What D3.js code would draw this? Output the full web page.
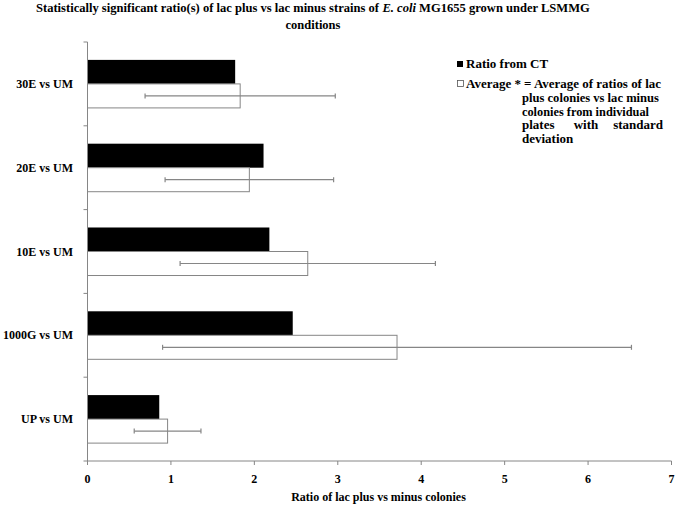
<!DOCTYPE html>
<html>
<head>
<meta charset="utf-8">
<script src="https://cdn.jsdelivr.net/npm/d3@7"></script>
<style>
  body { margin: 0; background: #fff; }
  text { font-family: "Liberation Serif", "Times New Roman", serif; font-weight: bold; fill: #000; }
</style>
</head>
<body>
<svg id="chart" width="675" height="508"></svg>
<script>
// values
let categories = ["30E vs UM", "20E vs UM", "10E vs UM", "1000G vs UM", "UP vs UM"];
let ratioCT = [1.77, 2.11, 2.18, 2.46, 0.86];
let average = [1.83, 1.94, 2.64, 3.71, 0.96];
let stdDev = [1.14, 1.01, 1.53, 2.81, 0.40];
let xTicks = [0, 1, 2, 3, 4, 5, 6, 7];

let titleParts = [
  {t: "Statistically significant ratio(s) of lac plus vs lac minus strains of ", italic: false},
  {t: "E. coli", italic: true},
  {t: " MG1655 grown under LSMMG", italic: false}
];

let grey = "#868686";

const svg = d3.select("#chart");

let x = d3.scaleLinear().domain([0, 7]).range([87.5, 671.5]);

let y = d3.scaleBand()
          .domain(categories)
          .range([42, 461])
          .paddingInner(0.427)
          .paddingOuter(0.2135);

let half = y.bandwidth() / 2;

// title, parts placed one after another, then centred
const title = svg.append("g");
let cx = 0;
titleParts.forEach(p => {
  let t = title.append("text")
     .attr("x", cx).attr("y", 12)
     .attr("font-size", 12.5)
     .style("white-space", "pre")
     .attr("font-style", p.italic ? "italic" : "normal")
     .text(p.t);
  cx += t.node().getComputedTextLength();
});
let k = 554 / cx;
title.attr("transform", `translate(${313 - 554 / 2},0) scale(${k},1)`);

svg.append("text")
   .attr("x", 313).attr("y", 29)
   .attr("text-anchor", "middle")
   .attr("font-size", 12.5)
   .text("conditions");

// bars
const rows = svg.append("g").selectAll("g")
   .data(categories)
   .join("g");

rows.append("rect")
    .attr("x", x(0))
    .attr("y", d => y(d))
    .attr("width", (d, i) => x(ratioCT[i]) - x(0))
    .attr("height", half)
    .attr("fill", "#000");

rows.append("rect")
    .attr("x", x(0))
    .attr("y", d => y(d) + half)
    .attr("width", (d, i) => x(average[i]) - x(0))
    .attr("height", half)
    .attr("fill", "#fff")
    .attr("stroke", grey)
    .attr("stroke-width", 1);

// error bars
const err = rows.append("g")
    .attr("stroke", grey)
    .attr("stroke-width", 1.2);

err.append("line")
   .attr("x1", (d, i) => x(average[i] - stdDev[i]))
   .attr("x2", (d, i) => x(average[i] + stdDev[i]))
   .attr("y1", d => y(d) + half * 1.5)
   .attr("y2", d => y(d) + half * 1.5);

err.selectAll("line.cap")
   .data((d, i) => [average[i] - stdDev[i], average[i] + stdDev[i]].map(v => ({v, c: d})))
   .join("line")
   .attr("class", "cap")
   .attr("x1", d => x(d.v)).attr("x2", d => x(d.v))
   .attr("y1", d => y(d.c) + half * 1.5 - 2.5)
   .attr("y2", d => y(d.c) + half * 1.5 + 2.5);

// y axis line and ticks at band boundaries
let step = y.step();
let bounds = d3.range(categories.length + 1).map(i => 42 + i * step);

svg.append("line")
   .attr("x1", x(0)).attr("x2", x(0))
   .attr("y1", 42).attr("y2", 461)
   .attr("stroke", grey);

svg.append("g").selectAll("line")
   .data(bounds)
   .join("line")
   .attr("x1", x(0) - 4).attr("x2", x(0))
   .attr("y1", d => d).attr("y2", d => d)
   .attr("stroke", grey);

svg.append("g").selectAll("text")
   .data(categories)
   .join("text")
   .attr("x", 73)
   .attr("y", d => y(d) + half + 4)
   .attr("text-anchor", "end")
   .attr("font-size", 12)
   .text(d => d);

// x axis
svg.append("line")
   .attr("x1", x(0)).attr("x2", x(7))
   .attr("y1", 461).attr("y2", 461)
   .attr("stroke", grey);

svg.append("g").selectAll("line")
   .data(xTicks)
   .join("line")
   .attr("x1", d => x(d)).attr("x2", d => x(d))
   .attr("y1", 461).attr("y2", 465)
   .attr("stroke", grey);

svg.append("g").selectAll("text")
   .data(xTicks)
   .join("text")
   .attr("x", d => x(d))
   .attr("y", 483)
   .attr("text-anchor", "middle")
   .attr("font-size", 12)
   .text(d => d);

svg.append("text")
   .attr("x", 378.5).attr("y", 501)
   .attr("text-anchor", "middle")
   .attr("font-size", 12)
   .text("Ratio of lac plus vs minus colonies");

// legend
const legend = svg.append("g").attr("font-size", 13);
legend.append("rect")
   .attr("x", 457).attr("y", 61).attr("width", 6).attr("height", 6)
   .attr("fill", "#000");
legend.append("text")
   .attr("x", 466).attr("y", 68)
   .text("Ratio from CT");

legend.append("rect")
   .attr("x", 457.5).attr("y", 80.5).attr("width", 6).attr("height", 6)
   .attr("fill", "#fff").attr("stroke", "#555").attr("stroke-width", 0.8);
legend.append("text")
   .attr("x", 466).attr("y", 88)
   .text("Average *");

let legendLines = [
  {t: "= Average of ratios of lac", x: 524, w: 137},
  {t: "plus colonies vs lac minus", x: 522, w: 137},
  {t: "colonies from individual", x: 522, w: 127},
  {t: "plates", x: 522, w: null},
  {t: "deviation", x: 522, w: null}
];
let lineY = [88, 102, 115.5, 129, 143];

legend.selectAll("text.ll")
   .data(legendLines)
   .join("text")
   .attr("class", "ll")
   .attr("x", d => d.x)
   .attr("y", (d, i) => lineY[i])
   .attr("textLength", d => d.w)
   .attr("lengthAdjust", "spacingAndGlyphs")
   .text(d => d.t);

legend.append("text")
   .attr("x", 586).attr("y", lineY[3])
   .attr("text-anchor", "middle")
   .text("with");
legend.append("text")
   .attr("x", 663).attr("y", lineY[3])
   .attr("text-anchor", "end")
   .text("standard");
</script>
</body>
</html>
